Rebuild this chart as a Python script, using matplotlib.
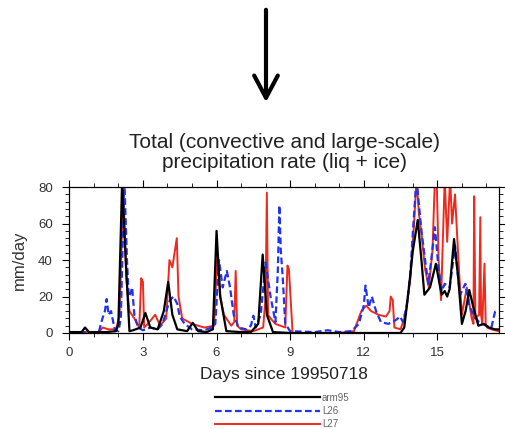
import numpy as np
import matplotlib
matplotlib.use("Agg")
import matplotlib.pyplot as plt
from matplotlib.patches import FancyArrowPatch

plt.rcParams['font.family'] = ['Liberation Sans', 'DejaVu Sans']

# days since 19950718 and precip rate (mm/day)
t_arm = [0, 0.5, 0.64, 0.8, 1.5, 1.9, 2.0, 2.15, 2.3, 2.45, 2.6, 2.9, 3.1, 3.3,
         3.6, 3.85, 4.03, 4.2, 4.4, 4.8, 5.03, 5.25, 5.6, 5.85, 6.0, 6.15, 6.4,
         7.0, 7.4, 7.7, 7.88, 8.05, 8.3, 9, 10, 11, 12, 13, 13.5, 13.65, 13.8,
         14.0, 14.2, 14.35, 14.47, 14.7, 14.94, 15.1, 15.18, 15.3, 15.4, 15.5,
         15.68, 15.85, 16.0, 16.15, 16.3, 16.45, 16.67, 16.9, 17.1, 17.35, 17.5]
arm95 = [0.5, 0.5, 3, 0.5, 0.5, 1, 5, 82, 40, 1, 1.5, 3, 11, 3,
         2, 12, 28, 10, 2, 1, 5.6, 1, 0.5, 2, 56, 20, 1,
         0.5, 0.5, 5, 43, 10, 0.5, 0, 0, 0, 0, 0, 0, 3, 20,
         45, 62, 40, 21, 25, 38, 26, 21, 23, 20, 24,
         51.5, 30, 5, 12, 23.6, 15, 4, 5, 3, 2, 2]

t_l26 = [0, 1.2, 1.35, 1.45, 1.52, 1.6, 1.7, 1.85, 2.0, 2.1, 2.24, 2.35, 2.42,
         2.5, 2.56, 2.65, 2.8, 3.0, 3.3, 3.6, 3.8, 4.0, 4.1, 4.25, 4.4, 4.5,
         4.7, 5.0, 5.5, 5.8, 5.95, 6.1, 6.25, 6.42, 6.55, 6.7, 6.9, 7.2, 7.4,
         7.5, 7.6, 7.8, 8.0, 8.2, 8.4, 8.5, 8.56, 8.62, 8.7, 8.8, 9.0, 10.0,
         10.53, 11.0, 11.5, 11.8, 12.0, 12.07, 12.2, 12.33, 12.5, 12.7, 13.0,
         13.3, 13.48, 13.6, 13.75, 13.89, 14.0, 14.15, 14.25, 14.36, 14.5,
         14.63, 14.75, 14.9, 15.05, 15.18, 15.3, 15.5, 15.6, 15.72, 15.85,
         15.93, 16.14, 16.3, 16.5, 16.7, 16.98, 17.2, 17.35, 17.5]
l26 = [0.5, 0.5, 8, 12, 18.6, 10, 12, 2, 1, 8, 85, 40, 20,
       22, 25, 10, 3, 1.5, 3, 2, 5, 14, 18, 20, 16, 9,
       5, 2, 1.5, 3, 5, 40, 25, 34, 25, 10, 3, 2, 4,
       9.5, 3, 10, 38.7, 20, 6, 35, 70, 45, 30, 5, 1, 0.5,
       1.5, 0.5, 1, 5, 15, 26, 14, 20, 12, 6, 5,
       7, 9, 6, 15, 31, 55, 85, 70, 55, 40,
       27, 40, 58, 35, 23, 27, 25, 35, 48, 30,
       21, 27, 15, 9, 6, 4, 3, 11.6, 12]

t_l27 = [0, 1.2, 1.36, 1.6, 1.9, 2.05, 2.2, 2.32, 2.45, 2.65, 2.85, 2.93, 3.0,
         3.05, 3.2, 3.5, 3.7, 3.95, 4.08, 4.2, 4.3, 4.38, 4.45, 4.6, 5.0, 5.5,
         5.9, 6.03, 6.15, 6.3, 6.6, 6.72, 6.78, 6.84, 7.0, 7.5, 7.9, 8.0, 8.05,
         8.1, 8.2, 8.4, 8.8, 8.89, 8.95, 9.1, 10, 11, 11.6, 11.9, 12.1, 12.3,
         12.6, 12.9, 13.05, 13.1, 13.18, 13.25, 13.5, 13.7, 13.9, 14.05, 14.15,
         14.25, 14.35, 14.5, 14.65, 14.8, 14.9, 14.97, 15.05, 15.15, 15.3, 15.4,
         15.52, 15.6, 15.72, 15.8, 15.9, 16.0, 16.2, 16.4, 16.47, 16.5, 16.55,
         16.7, 16.75, 16.78, 16.83, 16.92, 16.97, 17.02, 17.2, 17.5]
l27 = [0.5, 0.5, 3, 2, 2, 10, 82, 30, 12, 8, 3, 30, 28,
       3, 5, 10, 4, 8, 40, 36, 45, 52, 20, 8, 5, 3,
       4, 43, 20, 10, 4, 6, 34, 4, 2, 1, 3, 20, 77,
       10, 8, 5, 3, 37, 35, 0, 0, 0, 1, 12, 15, 12,
       10, 9, 12, 20, 18, 3, 2, 10, 30, 60, 85,
       65, 55, 35, 25, 45, 85, 85, 40, 18, 85, 50,
       85, 60, 76, 55, 30, 10, 25, 8, 5, 75, 8,
       10, 63.5, 10, 5, 38, 5, 3, 2, 1]

names = ['arm95', 'L26', 'L27']
xticks = [0, 3, 6, 9, 12, 15]
yticks = [0, 20, 40, 60, 80]

fig = plt.figure(figsize=(5.06, 4.29), dpi=100)
ax = fig.add_axes([0.137, 0.2238, 0.8486, 0.340])

h27, = ax.plot(t_l27, l27, color='#ee2a1e', lw=1.4, zorder=1)
h26, = ax.plot(t_l26, l26, color='#2233ee', lw=1.6, ls=(0, (3, 1.5)), zorder=2)
h95, = ax.plot(t_arm, arm95, color='black', lw=1.6, zorder=3)

ax.set_xlim(0, 17.5)
ax.set_ylim(0, 80)
ax.set_xticks(xticks)
ax.set_yticks(yticks)
ax.set_xticks(np.arange(0, 17.6, 1), minor=True)
ax.set_yticks(np.arange(0, 81, 4), minor=True)
ax.tick_params(which='both', direction='out', top=True, right=True,
               labelsize=9.5, labelcolor='#333333')
ax.tick_params(which='major', length=5, width=0.8)
ax.tick_params(axis='y', which='major', pad=7)
ax.tick_params(axis='x', which='major', pad=5)
ax.tick_params(which='minor', length=3, width=0.6)
for s in ax.spines.values():
    s.set_linewidth(0.9)

ax.set_title('Total (convective and large-scale)\nprecipitation rate (liq + ice)',
             fontsize=15, color='#222222', pad=14, linespacing=1.05)
ax.set_xlabel('Days since 19950718', fontsize=12.5, color='#222222', labelpad=6)
ax.set_ylabel('mm/day', fontsize=12, color='#333333', labelpad=8)

fig.legend([h95, h26, h27], names, loc='center', bbox_to_anchor=(0.558, 0.042),
           frameon=False, fontsize=7, handlelength=10.8, handletextpad=0.15,
           labelspacing=0.35, labelcolor='#666666')

# big arrow on top
arr = FancyArrowPatch((266 / 506, 1 - 7 / 429), (266 / 506, 1 - 105 / 429),
                      transform=fig.transFigure, arrowstyle='->,head_length=16,head_width=8.5',
                      mutation_scale=1, lw=3, color='black')
fig.add_artist(arr)

fig.savefig('out.png', dpi=100)
